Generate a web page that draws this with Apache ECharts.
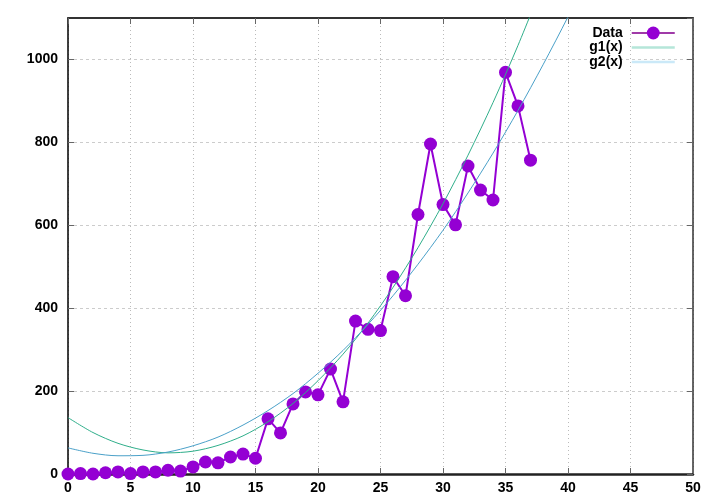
<!DOCTYPE html>
<html>
<head>
<meta charset="utf-8">
<script src="https://cdn.jsdelivr.net/npm/echarts@6/dist/echarts.min.js"></script>
<style>html,body{margin:0;padding:0;background:#fff}#c{width:720px;height:504px}</style>
</head>
<body>
<div id="c"></div>
<script>
// ---- data ----
var dataX = [0,1,2,3,4,5,6,7,8,9,10,11,12,13,14,15,16,17,18,19,20,21,22,23,24,25,26,27,28,29,30,31,32,33,34,35,36,37];
var dataY = [0,1,0,3,5,1,5,5,9,7,17,29,27,41,48,38,133,99,169,198,191,253,174,369,349,346,476,430,626,796,650,601,743,685,661,969,888,757];
var g1X = [0,2,4,6,8,10,12,14,16,18,20,22,24,26,28,30,32,34,36,38];
var g1Y = [136,100,74,58,51,55,69,92,126,170,225,289,364,450,546,652,769,896,1034,1183];
var g2X = [0,2,4,6,8,10,12,14,16,18,20,22,24,26,28,30,32,34,36,38,40,42];
var g2Y = [63,50,44,45,53,68,89,118,153,194,243,298,361,430,506,588,678,774,877,987,1103,1227];
var seriesNames = ['Data','g1(x)','g2(x)'];
var xTicks = {min:0, max:50, step:5};
var yTicks = {min:0, max:1100, step:200};

function pairs(xs, ys){ return xs.map(function(x,i){ return [x, ys[i]]; }); }

var font = 'Liberation Sans, Arial, Helvetica, sans-serif';
var chart = echarts.init(document.getElementById('c'), null, {renderer:'canvas'});
chart.setOption({
  animation: false,
  backgroundColor: '#fff',
  grid: {left: 68, right: 27, top: 18, bottom: 30, containLabel: false},
  legend: {
    orient: 'vertical',
    right: 39,
    top: 21,
    align: 'right',
    itemWidth: 43,
    itemHeight: 16,
    itemGap: 0.5,
    textStyle: {fontFamily: font, fontWeight: 'bold', fontSize: 14, color: '#000', width: 44, align: 'right', padding: [0,4,0,0], lineHeight: 14},
    data: [
      {name: seriesNames[0], lineStyle: {color: '#a03aa8', width: 2}},
      {name: seriesNames[1], lineStyle: {color: '#b5e6d9', width: 2.5}, itemStyle: {opacity: 0}},
      {name: seriesNames[2], lineStyle: {color: '#cbe9f8', width: 2.5}, itemStyle: {opacity: 0}}
    ]
  },
  xAxis: [{
    type: 'value', min: xTicks.min, max: xTicks.max, interval: xTicks.step, position: 'bottom',
    axisLine: {show: true, onZero: false, lineStyle: {color: '#222', width: 2.5}},
    axisTick: {show: true, inside: true, length: 6, lineStyle: {color: '#666'}},
    axisLabel: {fontFamily: font, fontWeight: 'bold', fontSize: 14, color: '#000', margin: 7},
    splitLine: {show: true, lineStyle: {color: '#bbb', width: 1, type: [1,3]}}
  },{
    type: 'value', min: xTicks.min, max: xTicks.max, interval: xTicks.step, position: 'top',
    axisLine: {show: true, onZero: false, lineStyle: {color: '#333', width: 2}},
    axisTick: {show: true, inside: true, length: 6, lineStyle: {color: '#666'}},
    axisLabel: {show: false}, splitLine: {show: false}
  }],
  yAxis: [{
    type: 'value', min: yTicks.min, max: yTicks.max, interval: yTicks.step, position: 'left',
    axisLine: {show: true, onZero: false, lineStyle: {color: '#000', width: 1.5}},
    axisTick: {show: true, inside: true, length: 6, lineStyle: {color: '#666'}},
    axisLabel: {fontFamily: font, fontWeight: 'bold', fontSize: 14, color: '#000', margin: 10, showMaxLabel: false,
      formatter: function(v){ return String(v); }},
    splitLine: {show: true, lineStyle: {color: '#ccc', width: 1, type: [3,3]}}
  },{
    type: 'value', min: yTicks.min, max: yTicks.max, interval: yTicks.step, position: 'right',
    axisLine: {show: true, onZero: false, lineStyle: {color: '#333', width: 1.5}},
    axisTick: {show: true, inside: true, length: 6, lineStyle: {color: '#666'}},
    axisLabel: {show: false}, splitLine: {show: false}
  }],
  series: [{
    name: seriesNames[0], type: 'line', data: pairs(dataX, dataY),
    symbol: 'circle', symbolSize: 13, showAllSymbol: true,
    itemStyle: {color: '#9400d3'},
    lineStyle: {color: '#9400d3', width: 2},
    z: 2
  },{
    name: seriesNames[1], type: 'line', data: pairs(g1X, g1Y),
    symbol: 'none', smooth: 0.3, clip: true,
    itemStyle: {color: '#009e73'},
    lineStyle: {color: '#2fae8a', width: 1},
    z: 3
  },{
    name: seriesNames[2], type: 'line', data: pairs(g2X, g2Y),
    symbol: 'none', smooth: 0.3, clip: true,
    itemStyle: {color: '#56b4e9'},
    lineStyle: {color: '#4aa0c8', width: 1},
    z: 4
  }]
});
</script>
</body>
</html>
